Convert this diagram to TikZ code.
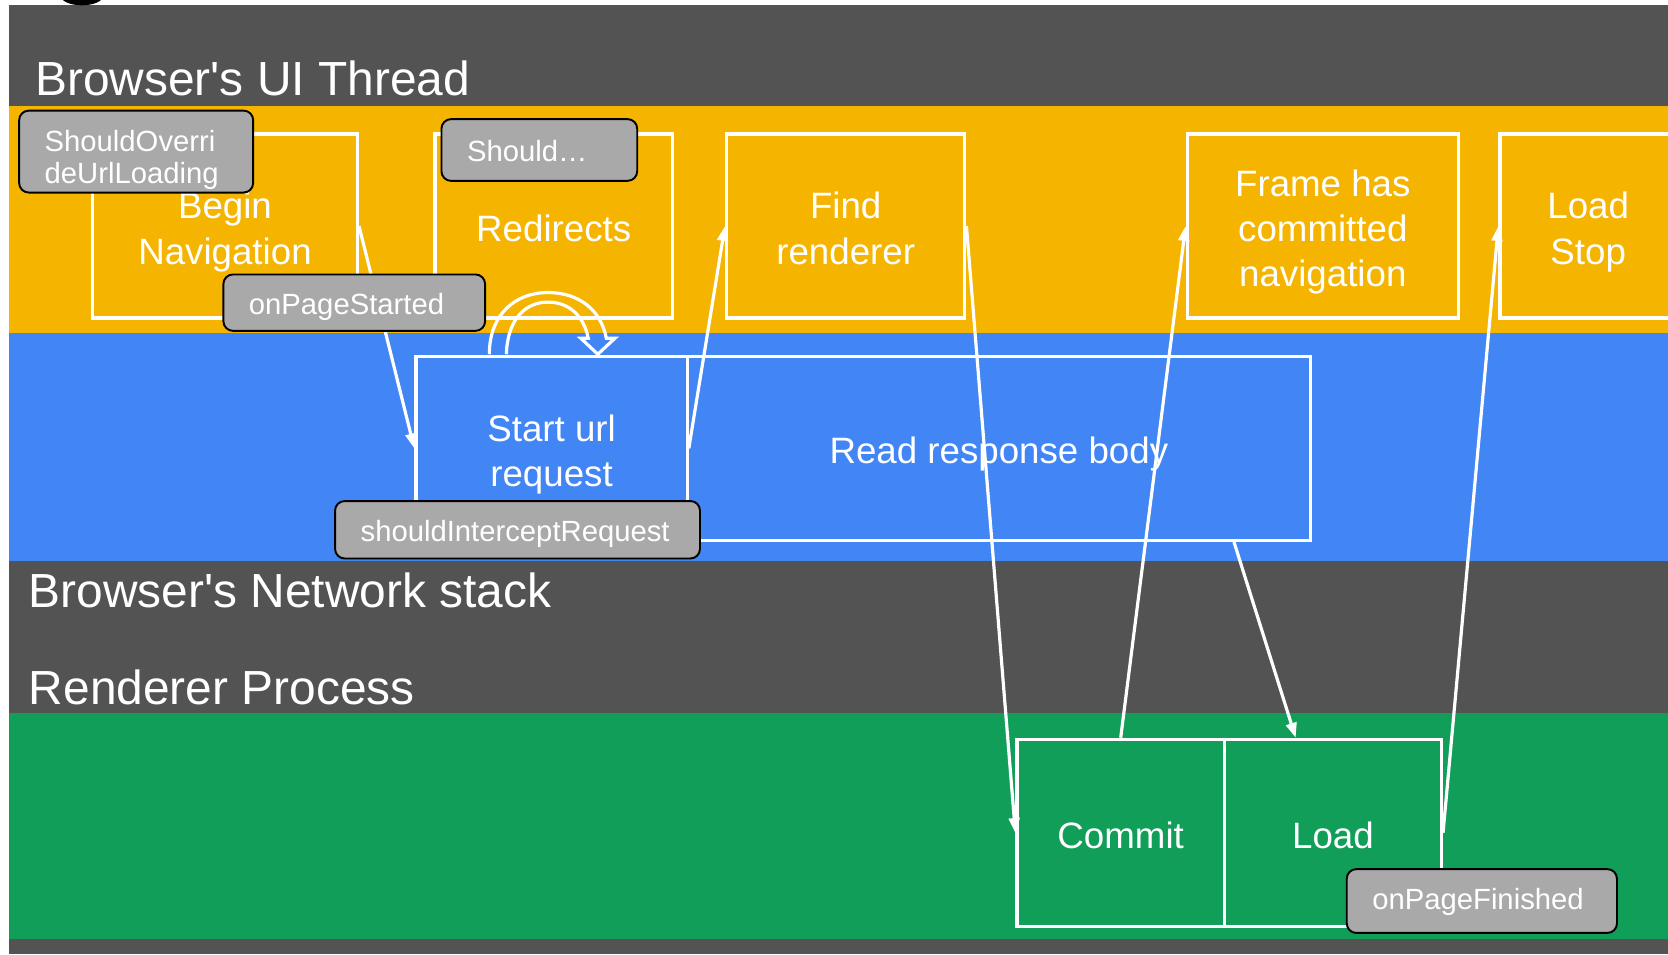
\documentclass[tikz,border=0pt]{standalone}
\usepackage{fontspec}
\setmainfont{Liberation Sans}
\usetikzlibrary{positioning, arrows.meta}

\begin{document}
\begin{tikzpicture}[x=1pt, y=-1pt,
  stage/.style={draw=white, line width=3pt, inner sep=0pt},
  stagetext/.style={text=white, align=center, inner sep=0pt, yshift=-5.5pt, execute at end node={\vphantom{g}}, font=\fontsize{34.5}{42.5}\selectfont},
  hook/.style={draw=black, fill=hookgrey, line width=1.8pt, rounded corners=9pt, inner sep=0pt},
  hooktext/.style={text=white, align=left, inner sep=0pt, yshift=-4pt, execute at end node={\vphantom{g}}, font=\fontsize{27.5}{30}\selectfont},
  lane/.style={text=white, anchor=base west, inner sep=0pt, font=\fontsize{45}{54}\selectfont},
  flow/.style={draw=white, line width=3pt, -{Triangle[length=14pt, width=10pt]}}]

% Define colors
\definecolor{darkband}{RGB}{83, 83, 83}
\definecolor{uiyellow}{RGB}{244, 180, 0}
\definecolor{netblue}{RGB}{66, 133, 244}
\definecolor{rendgreen}{RGB}{16, 158, 88}
\definecolor{hookgrey}{RGB}{169, 169, 169}

\useasboundingbox (0,0) rectangle (1568,897);
\clip (0,0) rectangle (1568,897);

% Draw the lanes
\fill[white] (0,0) rectangle (1568,897);
\fill[darkband] (8,5) rectangle (1568,897);
\fill[uiyellow] (8,100) rectangle (1568,313);
\fill[netblue] (8,313) rectangle (1568,527);
\fill[rendgreen] (8,670) rectangle (1568,883);
\fill[black] (77,-4) ellipse [x radius=20pt, y radius=9pt];

% Add the lane titles
\node[lane] (uititle) at (33,90) {Browser\textquotesingle s UI Thread};
\node[lane] (nettitle) at (27,571) {Browser\textquotesingle s Network stack};
\node[lane] (rendtitle) at (27,662) {Renderer Process};

% Draw the UI thread steps
\node[stage, minimum width=249pt, minimum height=173pt, label={[stagetext]center:{Begin\\Navigation}}] (begin) at (211.5,212.5) {};
\node[stage, minimum width=223pt, minimum height=173pt, label={[stagetext]center:{Redirects}}] (redirects) at (520.5,212.5) {};
\node[stage, minimum width=224pt, minimum height=173pt, label={[stagetext]center:{Find\\renderer}}] (finder) at (795,212.5) {};
\node[stage, minimum width=255pt, minimum height=173pt, label={[stagetext]center:{Frame has\\committed\\navigation}}] (framecommit) at (1243.5,212.5) {};
\node[stage, minimum width=166pt, minimum height=173pt, label={[stagetext]center:{Load\\Stop}}] (loadstop) at (1493,212.5) {};

% Draw the network steps
\node[stage, minimum width=255pt, minimum height=173pt, label={[stagetext]center:{Start url\\request}}] (starturl) at (518.5,421.5) {};
\node[stage, minimum width=586pt, minimum height=173pt, label={[stagetext]center:{Read response body}}] (readbody) at (939,421.5) {};

% Draw the renderer steps
\node[stage, minimum width=195pt, minimum height=176pt, label={[stagetext]center:{Commit}}] (commit) at (1053.5,783) {};
\node[stage, minimum width=204pt, minimum height=176pt, label={[stagetext]center:{Load}}] (load) at (1253,783) {};

% Draw the redirect loop
\draw[white, line width=3pt, line join=miter]
  (476,333) .. controls (477,300) and (494,284) .. (515,284)
  .. controls (536,284) and (549,298) .. (553,318)
  -- (546,318) -- (562,333) -- (578,318) -- (570,318)
  .. controls (565,292) and (545,275) .. (515,275)
  .. controls (484,275) and (460,296) .. (460,333);

% Draw the arrows
\draw[flow] (begin.east) -- (starturl.west);
\draw[flow] (starturl.east) -- (finder.west);
\draw[flow] (finder.east) -- (commit.west);
\draw[flow] (commit.north) -- (framecommit.west);
\draw[flow] ([xshift=221pt]readbody.south) -- ([xshift=-35pt]load.north);
\draw[flow] (load.east) -- (loadstop.west);

% Add the callbacks
\node[hook, minimum width=220pt, minimum height=77pt, label={[hooktext, text width=172pt, yshift=-4pt]center:{ShouldOverri\\deUrlLoading}}] (override) at (128,142.5) {};
\node[hook, minimum width=184pt, minimum height=58pt, label={[hooktext, text width=136pt]center:{Should…}}] (shouldhook) at (507,141) {};
\node[hook, minimum width=246pt, minimum height=53pt, label={[hooktext, text width=198pt]center:{onPageStarted}}] (pagestarted) at (333,284.5) {};
\node[hook, minimum width=343pt, minimum height=54pt, label={[hooktext, text width=295pt]center:{shouldInterceptRequest}}] (intercept) at (486.5,498) {};
\node[hook, minimum width=254pt, minimum height=60pt, label={[hooktext, text width=206pt, yshift=3pt]center:{onPageFinished}}] (pagefinished) at (1393,847) {};

\end{tikzpicture}
\end{document}
